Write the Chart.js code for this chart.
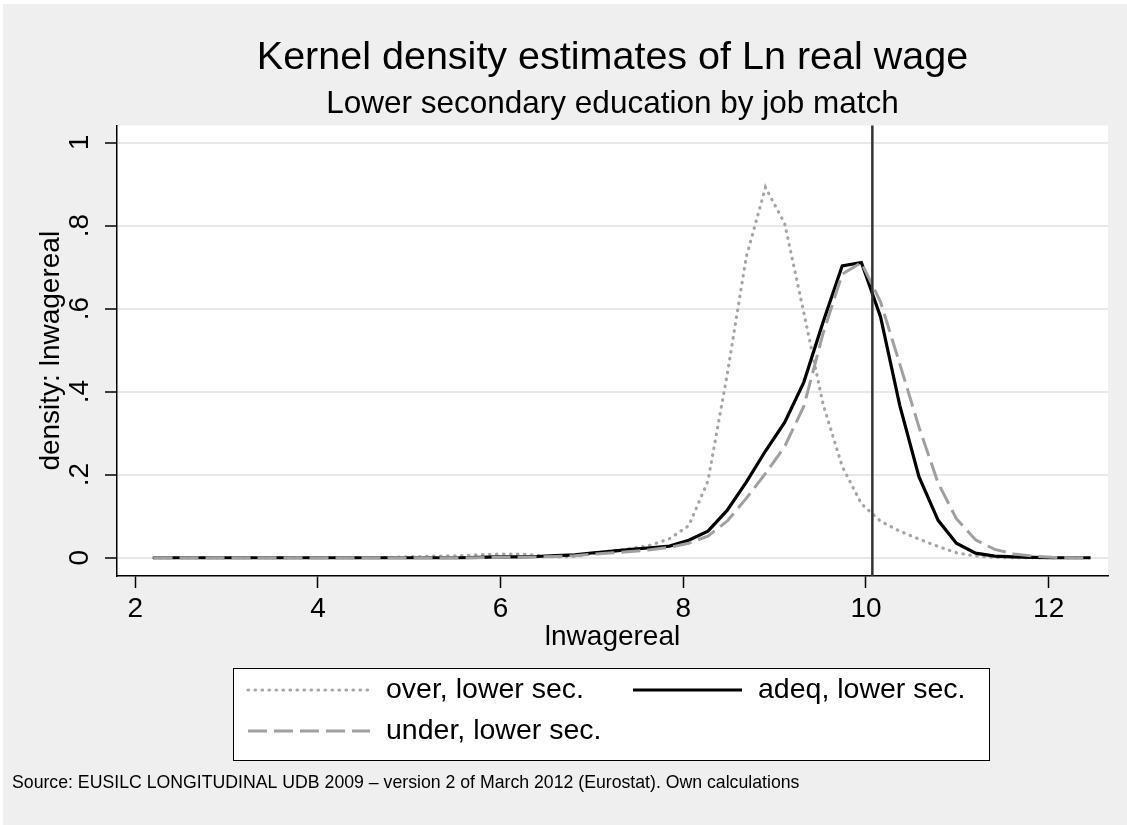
<!DOCTYPE html>
<html>
<head>
<meta charset="utf-8">
<title>Kernel density estimates of Ln real wage</title>
<script src="https://cdn.jsdelivr.net/npm/chart.js@4.4.0/dist/chart.umd.min.js"></script>
<style>
  html, body { margin: 0; padding: 0; background: #fff; overflow: hidden; }
  canvas { display: block; }
</style>
</head>
<body>
<canvas id="kdens" width="1127" height="825"></canvas>
<script>
// points where the densities were evaluated (lnwagereal)
const lnWage = [2.20, 2.41, 2.62, 2.83, 3.04, 3.25, 3.46, 3.67, 3.88, 4.08,
  4.29, 4.50, 4.71, 4.92, 5.13, 5.34, 5.55, 5.76, 5.97, 6.18,
  6.39, 6.60, 6.81, 7.02, 7.23, 7.43, 7.64, 7.85, 8.06, 8.27,
  8.48, 8.69, 8.90, 9.11, 9.32, 9.53, 9.74, 9.95, 10.16, 10.37,
  10.58, 10.79, 10.99, 11.20, 11.41, 11.62, 11.83, 12.04, 12.25, 12.46];

// densities
const overLower = [0, 0, 0, 0, 0, 0, 0, 0, 0, 0,
  0, 0, 0, 0.002, 0.003, 0.004, 0.005, 0.007, 0.009, 0.009,
  0.006, 0.002, 0.003, 0.010, 0.017, 0.022, 0.030, 0.046, 0.077, 0.185,
  0.44, 0.725, 0.892, 0.805, 0.59, 0.37, 0.22, 0.13, 0.088, 0.064,
  0.045, 0.027, 0.012, 0.004, 0.001, 0, 0, 0, 0, 0];
const adeqLower = [0, 0, 0, 0, 0, 0, 0, 0, 0, 0,
  0, 0, 0, 0, 0, 0, 0, 0.001, 0.002, 0.002,
  0.003, 0.005, 0.007, 0.012, 0.016, 0.020, 0.024, 0.028, 0.042, 0.064,
  0.114, 0.182, 0.257, 0.326, 0.423, 0.567, 0.703, 0.711, 0.580, 0.367,
  0.195, 0.090, 0.035, 0.011, 0.004, 0.002, 0.001, 0, 0, 0];
const underLower = [0, 0, 0, 0, 0, 0, 0, 0, 0, 0,
  0, 0, 0, 0, 0, 0, 0, 0, 0.001, 0.001,
  0.002, 0.003, 0.005, 0.009, 0.012, 0.015, 0.019, 0.025, 0.035, 0.052,
  0.088, 0.143, 0.203, 0.268, 0.365, 0.540, 0.683, 0.711, 0.616, 0.467,
  0.315, 0.180, 0.094, 0.043, 0.020, 0.009, 0.004, 0.001, 0, 0];

const seriesLabels = ['over, lower sec.', 'adeq, lower sec.', 'under, lower sec.'];
const xTicks = [2, 4, 6, 8, 10, 12];
const yTicks = [0, 0.2, 0.4, 0.6, 0.8, 1];
const yTickLabels = ['0', '.2', '.4', '.6', '.8', '1'];
const refLineX = 10.07;

const titleText = 'Kernel density estimates of Ln real wage';
const subtitleText = 'Lower secondary education by job match';
const sourceNote = 'Source: EUSILC LONGITUDINAL UDB 2009 \u2013 version 2 of March 2012 (Eurostat). Own calculations';

const FONT = "'Liberation Sans', Arial, Helvetica, sans-serif";
const toPoints = ys => ys.map((y, i) => ({ x: lnWage[i], y: y }));

// grey page, white plot region
const background = {
  id: 'background',
  beforeDraw(chart) {
    const { ctx, width, height, chartArea } = chart;
    ctx.save();
    ctx.fillStyle = '#fff';
    ctx.fillRect(0, 0, width, height);
    ctx.fillStyle = '#efefef';
    ctx.fillRect(3, 4, width - 3, height - 4);
    ctx.fillStyle = '#fff';
    ctx.fillRect(chartArea.left, chartArea.top, chartArea.width, chartArea.height);
    ctx.restore();
  }
};

// vertical reference line
const refLine = {
  id: 'refLine',
  afterDatasetsDraw(chart) {
    const { ctx, chartArea, scales } = chart;
    const px = scales.x.getPixelForValue(refLineX);
    ctx.save();
    ctx.strokeStyle = '#333';
    ctx.lineWidth = 2.5;
    ctx.beginPath();
    ctx.moveTo(px, chartArea.top);
    ctx.lineTo(px, chartArea.bottom);
    ctx.stroke();
    ctx.restore();
  }
};

// boxed legend under the plot + source note
const boxLegend = {
  id: 'boxLegend',
  afterDraw(chart) {
    const ctx = chart.ctx;
    const ds = chart.data.datasets;
    ctx.save();
    ctx.fillStyle = '#fff';
    ctx.fillRect(233, 668, 757, 93);
    ctx.strokeStyle = '#000';
    ctx.lineWidth = 1;
    ctx.strokeRect(233.5, 668.5, 756, 92);

    const entries = [
      { label: seriesLabels[0], x: 248, y: 690 },
      { label: seriesLabels[1], x: 633, y: 690 },
      { label: seriesLabels[2], x: 248, y: 731 }
    ];
    entries.forEach(e => {
      const d = ds.find(s => s.label === e.label);
      const len = e.x < 400 ? 122 : 109;
      ctx.beginPath();
      ctx.strokeStyle = d.borderColor;
      ctx.lineWidth = d.borderWidth;
      ctx.lineCap = d.borderCapStyle || 'butt';
      ctx.setLineDash(d.borderDash || []);
      ctx.moveTo(e.x, e.y);
      ctx.lineTo(e.x + len, e.y);
      ctx.stroke();
      ctx.setLineDash([]);
      ctx.fillStyle = '#000';
      ctx.font = '28.5px ' + FONT;
      ctx.textAlign = 'left';
      ctx.textBaseline = 'middle';
      ctx.fillText(e.label, e.x + len + 16, e.y);
    });

    ctx.font = '17.7px ' + FONT;
    ctx.textBaseline = 'middle';
    ctx.fillText(sourceNote, 12, 783);
    ctx.restore();
  }
};

const kdensConfig = {
  type: 'line',
  data: {
    datasets: [
      {
        label: seriesLabels[0],
        data: toPoints(overLower),
        borderColor: '#a6a6a6',
        borderWidth: 3.2,
        borderDash: [0.5, 6.5],
        borderCapStyle: 'round',
        order: 3
      },
      {
        label: seriesLabels[1],
        data: toPoints(adeqLower),
        borderColor: '#000',
        borderWidth: 3.2,
        order: 2
      },
      {
        label: seriesLabels[2],
        data: toPoints(underLower),
        borderColor: '#a0a0a0',
        borderWidth: 3,
        borderDash: [19, 7],
        order: 1
      }
    ]
  },
  options: {
    responsive: false,
    animation: false,
    events: [],
    elements: {
      point: { radius: 0 },
      line: { tension: 0, fill: false }
    },
    layout: { padding: { left: 0, right: 19, top: 0, bottom: 169 } },
    scales: {
      x: {
        type: 'linear',
        min: 1.80,
        max: 12.65,
        afterBuildTicks: s => { s.ticks = xTicks.map(v => ({ value: v })); },
        afterFit: s => { s.height = 80; },
        ticks: {
          color: '#000',
          font: { family: FONT, size: 28 },
          padding: 4,
          maxRotation: 0,
          autoSkip: false
        },
        grid: {
          drawOnChartArea: false,
          tickLength: 12,
          tickColor: '#000',
          tickWidth: 1.5
        },
        border: { color: '#000', width: 1.5 },
        title: {
          display: true,
          text: 'lnwagereal',
          color: '#000',
          font: { family: FONT, size: 28 },
          padding: { top: 0, bottom: 2 }
        }
      },
      y: {
        type: 'linear',
        min: -0.044,
        max: 1.041,
        afterBuildTicks: s => { s.ticks = yTicks.map(v => ({ value: v })); },
        afterFit: s => { s.width = 117; },
        ticks: {
          color: '#000',
          font: { family: FONT, size: 28 },
          minRotation: 90,
          maxRotation: 90,
          crossAlign: 'center',
          padding: 13,
          callback: v => yTickLabels[yTicks.indexOf(v)]
        },
        grid: {
          color: '#e8e8e8',
          lineWidth: 2,
          tickLength: 12,
          tickColor: '#000',
          tickWidth: 1.5
        },
        border: { color: '#000', width: 1.5 },
        title: {
          display: true,
          text: 'density: lnwagereal',
          color: '#000',
          font: { family: FONT, size: 28 },
          padding: { top: 34, bottom: 0 }
        }
      }
    },
    plugins: {
      legend: { display: false },
      tooltip: { enabled: false },
      title: {
        display: true,
        fullSize: false,
        text: titleText,
        color: '#000',
        font: { family: FONT, size: 39.5, weight: 'normal' },
        padding: { top: 34.3, bottom: 4 }
      },
      subtitle: {
        display: true,
        fullSize: false,
        text: subtitleText,
        color: '#000',
        font: { family: FONT, size: 31.5, weight: 'normal' },
        padding: { top: 0, bottom: 2 }
      }
    }
  },
  plugins: [background, refLine, boxLegend]
};

const kdensChart = new Chart(document.getElementById('kdens'), kdensConfig);
</script>
</body>
</html>
